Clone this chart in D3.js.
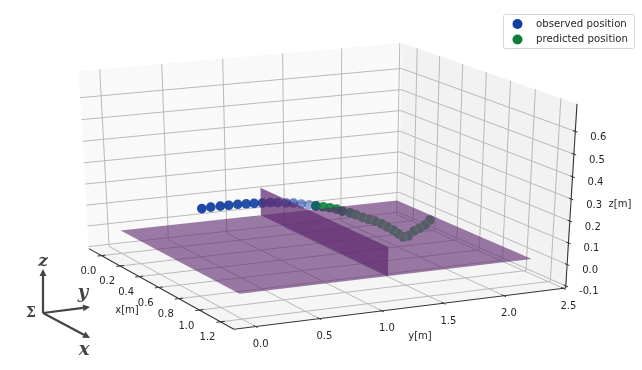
<!DOCTYPE html>
<html>
<head>
<meta charset="utf-8">
<script src="https://cdnjs.cloudflare.com/ajax/libs/d3/7.8.5/d3.min.js"></script>
<style>
  html, body { margin: 0; background: #fff; }
  svg { display: block; filter: blur(0.45px); }
  text { font-family: "DejaVu Sans"; fill: #262626; }
  .icon text { font-family: "DejaVu Serif"; fill: #444; font-weight: bold; }
</style>
</head>
<body>
<script>
// axis limits and ticks
var xLim = [-0.138, 1.324];
var yLim = [-0.169, 2.519];
var zLim = [-0.110, 0.719];
var xTicks = [0, 0.2, 0.4, 0.6, 0.8, 1.0, 1.2];
var yTicks = [0, 0.5, 1.0, 1.5, 2.0, 2.5];
var zTicks = [-0.1, 0, 0.1, 0.2, 0.3, 0.4, 0.5, 0.6];

// table top and net
var tableX = [0, 1.18];
var tableY = [0, 2.37];
var netY = 1.18;
var netZ = [0, 0.133];

// ball positions, x stays about the same along the flight
var ballX = 0.6;
var observedY = [0.196, 0.268, 0.344, 0.412, 0.484, 0.552, 0.616, 0.684, 0.748, 0.808, 0.876, 0.936, 1.000, 1.064, 1.120];
var observedZ = [0.232, 0.234, 0.234, 0.234, 0.234, 0.232, 0.230, 0.228, 0.226, 0.222, 0.216, 0.212, 0.204, 0.196, 0.188];
var predictedY = [1.120, 1.180, 1.236, 1.292, 1.340, 1.404, 1.452, 1.508, 1.560, 1.612, 1.668, 1.716, 1.768, 1.812, 1.856, 1.900, 1.948, 1.992, 2.040, 2.080];
var predictedZ = [0.188, 0.180, 0.172, 0.162, 0.150, 0.138, 0.126, 0.110, 0.098, 0.086, 0.070, 0.052, 0.034, 0.014, -0.004, -0.002, 0.018, 0.028, 0.040, 0.062];

var legendLabels = ['observed position', 'predicted position'];

;(function() {

  var width = 642;
  var height = 370;
  var blue = '#123ea0';
  var green = '#0f7d3c';
  var purple = '#5f2a70';
  var gridColor = '#b9b9b9';

  var svg = d3.select('body').append('svg').attr('width', width).attr('height', height);

  // data -> unit cube
  var cx = d3.scaleLinear().domain(xLim).range([0, 1]);
  var cy = d3.scaleLinear().domain(yLim).range([0, 1]);
  var cz = d3.scaleLinear().domain(zLim).range([0, 1]);

  // projected plane -> pixels
  var sx = d3.scaleLinear().domain([0, 1]).range([321.8, 686.1]);
  var sy = d3.scaleLinear().domain([0, 1]).range([179.53, -17.43]);

  // same camera model as a matplotlib 3d axes
  var elev = 23.5 * Math.PI / 180;
  var azim = -26 * Math.PI / 180;
  var dist = 9;
  var w = [Math.cos(elev) * Math.cos(azim), Math.cos(elev) * Math.sin(azim), Math.sin(elev)];
  var eye = w.map(function(d) { return 0.5 + dist * d; });
  var n = Math.hypot(w[0], w[1]);
  var u = [-w[1] / n, w[0] / n, 0];
  var v = [w[1] * u[2] - w[2] * u[1], w[2] * u[0] - w[0] * u[2], w[0] * u[1] - w[1] * u[0]];

  function dot(a, b) { return a[0] * b[0] + a[1] * b[1] + a[2] * b[2]; }

  function projectCube(p) {
    var d = [p[0] - eye[0], p[1] - eye[1], p[2] - eye[2]];
    var k = dist / -dot(d, w);
    return [sx(dot(d, u) * k), sy(dot(d, v) * k)];
  }

  function project(x, y, z) {
    return projectCube([cx(x), cy(y), cz(z)]);
  }

  var path = d3.line();

  function drawPoly(points, fill, opacity) {
    svg.append('path')
        .attr('d', path(points) + 'Z')
        .attr('fill', fill)
        .attr('fill-opacity', opacity);
  }

  function drawLine(g, a, b, color, lineWidth) {
    g.append('path')
        .attr('d', path([a, b]))
        .attr('fill', 'none')
        .attr('stroke', color)
        .attr('stroke-width', lineWidth);
  }

  function renderPanes() {
    var x0 = xLim[0], x1 = xLim[1], y0 = yLim[0], y1 = yLim[1], z0 = zLim[0], z1 = zLim[1];
    drawPoly([project(x0, y0, z0), project(x0, y1, z0), project(x0, y1, z1), project(x0, y0, z1)], '#f9f9f9', 1);
    drawPoly([project(x0, y1, z0), project(x1, y1, z0), project(x1, y1, z1), project(x0, y1, z1)], '#f2f2f2', 1);
    drawPoly([project(x0, y0, z0), project(x1, y0, z0), project(x1, y1, z0), project(x0, y1, z0)], '#f5f5f5', 1);
  }

  function renderGrid() {
    var x0 = xLim[0], x1 = xLim[1], y0 = yLim[0], y1 = yLim[1], z0 = zLim[0], z1 = zLim[1];
    var g = svg.append('g').classed('grid', true);

    xTicks.forEach(function(t) {
      g.append('path').attr('d', path([project(t, y0, z0), project(t, y1, z0), project(t, y1, z1)]));
    });
    yTicks.forEach(function(t) {
      g.append('path').attr('d', path([project(x1, t, z0), project(x0, t, z0), project(x0, t, z1)]));
    });
    zTicks.forEach(function(t) {
      g.append('path').attr('d', path([project(x0, y0, t), project(x0, y1, t), project(x1, y1, t)]));
    });

    g.selectAll('path').attr('fill', 'none').attr('stroke', gridColor).attr('stroke-width', 1);
  }

  function renderBalls(ys, zs, color, opacity) {
    svg.append('g').selectAll('circle')
        .data(ys)
        .enter()
        .append('circle')
        .attr('cx', function(d, i) { return project(ballX, d, zs[i])[0]; })
        .attr('cy', function(d, i) { return project(ballX, d, zs[i])[1]; })
        .attr('r', 4.8)
        .attr('fill', color)
        .attr('fill-opacity', function(d, i) { return opacity(i); });
  }

  function renderTable() {
    var z = 0;
    drawPoly([project(tableX[0], tableY[0], z), project(tableX[1], tableY[0], z), project(tableX[1], tableY[1], z), project(tableX[0], tableY[1], z)], purple, 0.62);
    drawPoly([project(tableX[0], netY, netZ[0]), project(tableX[1], netY, netZ[0]), project(tableX[1], netY, netZ[1]), project(tableX[0], netY, netZ[1])], purple, 0.72);
  }

  function renderAxis(ticks, a, b, tickAt, format, offset) {
    var g = svg.append('g').classed('axis', true);
    drawLine(g, a, b, '#333', 1.1);

    ticks.forEach(function(t) {
      var ends = tickAt(t);
      drawLine(g, ends[0], ends[1], '#333', 1);
      var mid = ends[2];
      g.append('text')
          .attr('x', mid[0] + offset[0])
          .attr('y', mid[1] + offset[1])
          .attr('dy', '0.35em')
          .attr('text-anchor', 'middle')
          .attr('font-size', 10)
          .text(format(t));
    });
  }

  function renderAxes() {
    var x0 = xLim[0], x1 = xLim[1], y0 = yLim[0], y1 = yLim[1], z0 = zLim[0], z1 = zLim[1];
    var format = function(t) { return d3.format('.1f')(t).replace('\u2212', '-'); };
    var pad = 0.012;

    renderAxis(xTicks, project(x0, y0, z0), project(x1, y0, z0), function(t) {
      var c = [cx(t), 0, 0];
      return [projectCube([c[0], -pad, 0]), projectCube([c[0], pad, 0]), project(t, y0, z0)];
    }, format, [-13, 15]);

    renderAxis(yTicks, project(x1, y0, z0), project(x1, y1, z0), function(t) {
      var c = cy(t);
      return [projectCube([1 + pad, c, 0]), projectCube([1 - pad, c, 0]), project(x1, t, z0)];
    }, format, [5, 17]);

    renderAxis(zTicks, project(x1, y1, z0), project(x1, y1, z1), function(t) {
      var c = cz(t);
      return [projectCube([1 + pad, 1, c]), projectCube([1 - pad, 1, c]), project(x1, y1, t)];
    }, format, [23, 5]);

    [['x[m]', 127, 309], ['y[m]', 420, 335], ['z[m]', 620, 203]].forEach(function(d) {
      svg.append('text')
          .attr('x', d[1])
          .attr('y', d[2])
          .attr('dy', '0.35em')
          .attr('text-anchor', 'middle')
          .attr('font-size', 10)
          .text(d[0]);
    });
  }

  function renderLegend() {
    var g = svg.append('g').classed('legend', true).attr('transform', 'translate(503,14)');
    g.append('rect')
        .attr('x', 0.5)
        .attr('y', 0.5)
        .attr('width', 131)
        .attr('height', 34)
        .attr('rx', 2)
        .attr('fill', '#fff')
        .attr('stroke', '#d6d6d6');

    legendLabels.forEach(function(label, i) {
      g.append('circle')
          .attr('cx', 14.5)
          .attr('cy', 10 + i * 15.5)
          .attr('r', 5)
          .attr('fill', i ? green : blue);
      g.append('text')
          .attr('x', 33)
          .attr('y', 9 + i * 15.5)
          .attr('dy', '0.35em')
          .attr('font-size', 10.2)
          .text(label);
    });
  }

  // frame symbol in the lower left corner
  function renderFrameIcon() {
    var g = svg.append('g').classed('icon', true).attr('transform', 'translate(43,313)');
    var arrows = [[0, -44], [47, -6], [47, 25]];

    arrows.forEach(function(a) {
      var len = Math.hypot(a[0], a[1]);
      var ux = a[0] / len, uy = a[1] / len;
      var base = [a[0] - ux * 7, a[1] - uy * 7];
      drawLine(g, [0, 0], base, '#444', 2.2);
      g.append('path')
          .attr('d', path([a, [base[0] - uy * 3.5, base[1] + ux * 3.5], [base[0] + uy * 3.5, base[1] - ux * 3.5]]) + 'Z')
          .attr('fill', '#444');
    });

    [['z', 0, -53, 'italic', 17], ['y', 40, -21, 'italic', 18], ['x', 41, 36, 'italic', 18], ['\u03a3', -12, -1, 'normal', 14]].forEach(function(d) {
      g.append('text')
          .attr('x', d[1])
          .attr('y', d[2])
          .attr('dy', '0.35em')
          .attr('text-anchor', 'middle')
          .attr('font-style', d[3])
          .attr('font-size', d[4])
          .text(d[0]);
    });
  }

  renderPanes();
  renderGrid();
  renderBalls(observedY, observedZ, blue, d3.scaleLinear().domain([0, 7, 11, 13, 14]).range([0.95, 0.9, 0.65, 0.45, 0.95]));
  renderBalls(predictedY, predictedZ, green, d3.scaleLinear().domain([0, 1, 19]).range([0.55, 0.9, 0.9]));
  renderTable();
  // the balls under the table read grey rather than blue-violet
  renderBalls(predictedY, predictedZ, '#8a9a80', d3.scaleLinear().domain([0, 4, 6, 19]).range([0, 0, 0.2, 0.2]));
  renderAxes();
  renderLegend();
  renderFrameIcon();

}());
</script>
</body>
</html>
